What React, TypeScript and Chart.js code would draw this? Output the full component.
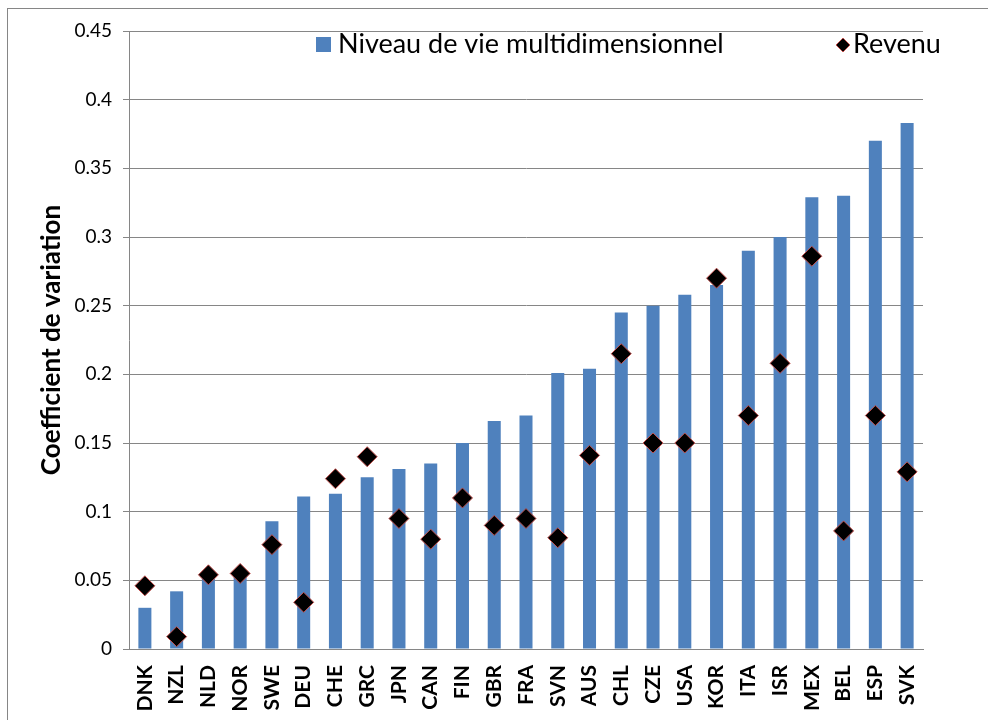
import React, { useEffect, useRef } from 'react';
import { Chart, registerables } from 'chart.js';

Chart.register(...registerables);

const categories = ['DNK', 'NZL', 'NLD', 'NOR', 'SWE', 'DEU', 'CHE', 'GRC', 'JPN', 'CAN', 'FIN', 'GBR', 'FRA', 'SVN', 'AUS', 'CHL', 'CZE', 'USA', 'KOR', 'ITA', 'ISR', 'MEX', 'BEL', 'ESP', 'SVK'];
const niveauDeVie = [0.030, 0.042, 0.052, 0.055, 0.093, 0.111, 0.113, 0.125, 0.131, 0.135, 0.150, 0.166, 0.170, 0.201, 0.204, 0.245, 0.250, 0.258, 0.265, 0.290, 0.300, 0.329, 0.330, 0.370, 0.383];
const revenu = [0.046, 0.009, 0.054, 0.055, 0.076, 0.034, 0.124, 0.140, 0.095, 0.080, 0.110, 0.090, 0.095, 0.081, 0.141, 0.215, 0.150, 0.150, 0.270, 0.170, 0.208, 0.286, 0.086, 0.170, 0.129];
const seriesNames = ['Niveau de vie multidimensionnel', 'Revenu'];
const yAxisTitle = 'Coefficient de variation';
const yMin = 0;
const yMax = 0.45;
const yStep = 0.05;

const BAR_COLOR = '#4F81BD';
const DIAMOND_FILL = '#000000';
const DIAMOND_EDGE = '#C0504D';
const GRID = '#868686';
const FONT = 'Lato, "Noto Sans", sans-serif';

const framePlugin = {
  id: 'frame',
  beforeDraw(chart: any) {
    const ctx = chart.ctx;
    ctx.save();
    ctx.fillStyle = '#ffffff';
    ctx.fillRect(0, 0, chart.width, chart.height);
    ctx.strokeStyle = GRID;
    ctx.lineWidth = 1;
    ctx.strokeRect(7.5, 8.5, 1200, 1200);
    ctx.restore();
  },
};

const legendPlugin = {
  id: 'insideLegend',
  afterDraw(chart: any) {
    const ctx = chart.ctx;
    ctx.save();
    ctx.font = `27px ${FONT}`;
    ctx.textBaseline = 'alphabetic';
    ctx.fillStyle = BAR_COLOR;
    ctx.fillRect(316, 37, 15, 15);
    ctx.fillStyle = '#000';
    ctx.fillText(seriesNames[0], 338, 53);
    const cx = 843;
    const cy = 45;
    const r = 7;
    ctx.beginPath();
    ctx.moveTo(cx - r, cy);
    ctx.lineTo(cx, cy - r);
    ctx.lineTo(cx + r, cy);
    ctx.lineTo(cx, cy + r);
    ctx.closePath();
    ctx.fillStyle = DIAMOND_FILL;
    ctx.fill();
    ctx.strokeStyle = DIAMOND_EDGE;
    ctx.lineWidth = 1;
    ctx.stroke();
    ctx.fillStyle = '#000';
    ctx.fillText(seriesNames[1], 853, 53);
    ctx.restore();
  },
};

export default function App() {
  const ref = useRef<HTMLCanvasElement | null>(null);

  useEffect(() => {
    if (!ref.current) return;
    const chart = new Chart(ref.current, {
      type: 'bar',
      data: {
        labels: categories,
        datasets: [
          {
            type: 'line',
            label: seriesNames[1],
            data: revenu,
            showLine: false,
            pointStyle: 'rectRot',
            pointRadius: 10,
            pointHoverRadius: 10,
            pointBackgroundColor: DIAMOND_FILL,
            pointBorderColor: DIAMOND_EDGE,
            pointBorderWidth: 1,
            order: 1,
          } as any,
          {
            type: 'bar',
            label: seriesNames[0],
            data: niveauDeVie,
            backgroundColor: BAR_COLOR,
            borderWidth: 0,
            barPercentage: 0.41,
            categoryPercentage: 1,
            order: 2,
          },
        ],
      },
      options: {
        responsive: false,
        animation: false,
        devicePixelRatio: 1,
        layout: { padding: { left: 36, top: 31, right: 65, bottom: 0 } },
        plugins: {
          legend: { display: false },
          tooltip: { enabled: false },
        },
        scales: {
          x: {
            grid: { display: false, drawTicks: false },
            border: { display: true, color: GRID, width: 1 },
            ticks: {
              color: '#000',
              font: { family: FONT, size: 21, weight: 'bold' },
              minRotation: 90,
              maxRotation: 90,
              autoSkip: false,
              padding: 16,
            },
            afterFit(scale: any) {
              scale.height = 71;
            },
          },
          y: {
            min: yMin,
            max: yMax,
            grid: { color: GRID, lineWidth: 1, tickLength: 6, drawTicks: true },
            border: { display: true, color: GRID, width: 1 },
            ticks: {
              stepSize: yStep,
              color: '#000',
              padding: 11,
              font: { family: FONT, size: 19 },
              callback: (v: any) => String(Number(Number(v).toFixed(2))),
            },
            title: {
              display: true,
              text: yAxisTitle,
              color: '#000',
              padding: 0,
              font: { family: FONT, size: 26, weight: 'bold' },
            },
            afterFit(scale: any) {
              scale.width = 93;
            },
          },
        },
      },
      plugins: [framePlugin, legendPlugin],
    });
    return () => chart.destroy();
  }, []);

  return (
    <div style={{ position: 'absolute', left: 0, top: 0, width: 988, height: 720 }}>
      <canvas ref={ref} width={988} height={720} style={{ display: 'block' }} />
    </div>
  );
}
